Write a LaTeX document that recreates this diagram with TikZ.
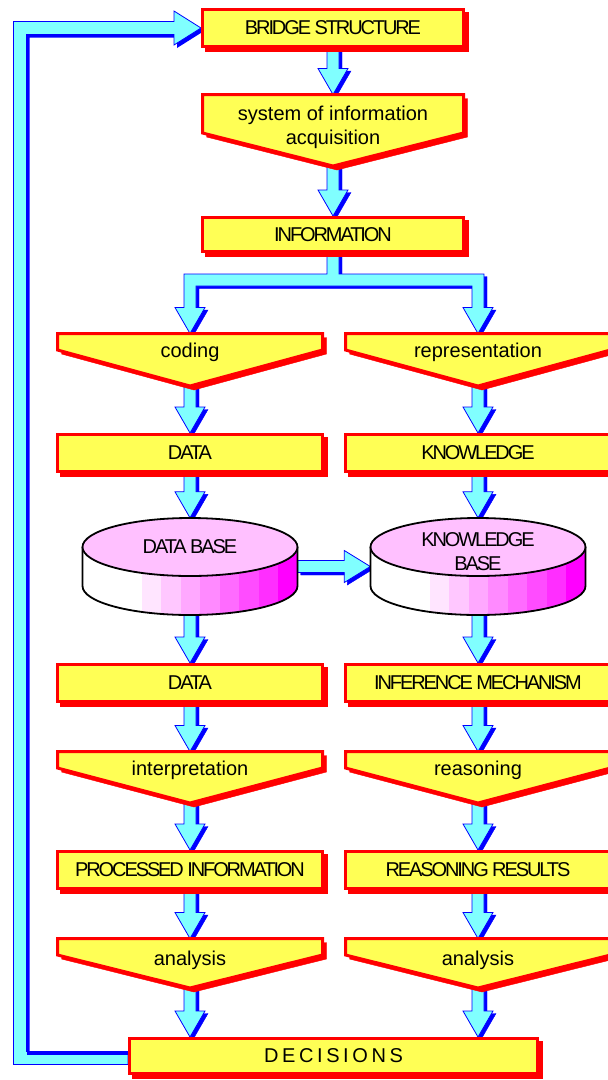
\documentclass[tikz,border=0pt]{standalone}
\usepackage{fontspec}
\setmainfont{Liberation Sans}
\newfontfamily\capsfont[LetterSpace=-10.5]{Liberation Sans}
\newfontfamily\widefont[LetterSpace=18]{Liberation Sans}
\usetikzlibrary{calc,shadows,backgrounds}
\definecolor{boxyellow}{HTML}{FFFF55}
\definecolor{acyan}{HTML}{80FFFF}
\definecolor{pinktop}{HTML}{FFC0FF}
\definecolor{mag}{HTML}{FF00FF}
\tikzset{
  redshadow/.style={drop shadow={shadow xshift=4pt,shadow yshift=-4pt,fill=red,draw=red,opacity=1}},
  redbox/.style={draw=red,line width=3pt,fill=boxyellow,redshadow,inner sep=0pt,font=\fontsize{20}{24}\capsfont},
  topbox/.style={redbox,minimum width=261pt,minimum height=37pt},
  colbox/.style={redbox,minimum width=265pt,minimum height=37pt},
  frame/.style={draw=red,line width=3pt,fill=boxyellow,redshadow},
  lbl/.style={font=\fontsize{20}{24}\selectfont,inner sep=0pt},
  capslbl/.style={font=\fontsize{20}{24}\capsfont,inner sep=0pt},
  barrow/.style={fill=acyan,draw=blue,line width=0.8pt,drop shadow={shadow xshift=3pt,shadow yshift=-2.5pt,fill=blue,draw=blue,opacity=1}},
  bdown/.style={to path={let \p1=(\tikztostart),\p2=(\tikztotarget) in
    (\x1-6pt,\y1) -- (\x1+6pt,\y1) -- (\x1+6pt,\y2+26pt) -- (\x1+15pt,\y2+26pt)
    -- (\x1,\y2) -- (\x1-15pt,\y2+26pt) -- (\x1-6pt,\y2+26pt) -- cycle}},
  bright/.style={to path={let \p1=(\tikztostart),\p2=(\tikztotarget) in
    (\x1,\y1+6pt) -- (\x2-26pt,\y1+6pt) -- (\x2-26pt,\y1+16pt) -- (\x2,\y1)
    -- (\x2-26pt,\y1-16pt) -- (\x2-26pt,\y1-6pt) -- (\x1,\y1-6pt) -- cycle}},
}
\newcommand\pentbox[8]{%
  \path[frame] (#2-#3,#4) -- (#2+#3,#4) -- (#2+#3,#5) -- (#2,#6) -- (#2-#3,#5) -- cycle;
  \node[lbl,anchor=base] (#1) at (#2,#7) {#8};
  \coordinate (#1-top) at (#2,#4);
  \coordinate (#1-tip) at (#2,#6-3);
}
\newcommand\cylbase[2]{%
  \node[inner sep=0pt,minimum width=215pt,minimum height=97pt] (#1) at (#2,566.5) {};
  \begin{scope}
    \clip (#2-107.5,547) -- (#2-107.5,586) arc[start angle=180,end angle=0,x radius=107.5,y radius=29] -- (#2+107.5,547) -- cycle;
    \fill[white] (#2-108,500) rectangle (#2+108,620);
    \foreach \k [count=\i from 0] in {10,22,34,46,58,70,82,100} {
      \fill[mag!\k!white] ({#2-48.5+19.5*\i},540) rectangle ({#2-48.5+19.5*(\i+1)+0.3},620);
    }
  \end{scope}
  \draw[line width=1.8pt] (#2-107.5,547) -- (#2-107.5,586) arc[start angle=180,end angle=0,x radius=107.5,y radius=29] -- (#2+107.5,547);
  \draw[line width=1.8pt,fill=pinktop] (#2,547) ellipse [x radius=107.5,y radius=29];
}
\begin{document}
\begin{tikzpicture}[x=1pt,y=-1pt]
\useasboundingbox (0,0) rectangle (608,1080);

\node[topbox] (bridge) at (333,28) {BRIDGE STRUCTURE};

\path[frame] (202.5,94.5) -- (463.5,94.5) -- (463.5,133) -- (333,166) -- (202.5,133) -- cycle;
\node[lbl,align=center] (system) at (333,127) {system of information\\acquisition};
\coordinate (system-top) at (333,94.5);
\coordinate (system-tip) at (333,163);

\node[topbox,minimum height=34pt] (info) at (333,234.5) {INFORMATION};

\pentbox{coding}{190}{132.5}{333.5}{350}{386}{357}{coding}
\pentbox{repr}{478}{132.5}{333.5}{350}{386}{357}{representation}

\node[colbox] (data1) at (190,453) {DATA};
\node[colbox] (know) at (478,453) {KNOWLEDGE};

\cylbase{db}{190}
\cylbase{kb}{478}
\node[capslbl,anchor=base] (dbtxt) at (190,553) {DATA BASE};
\node[capslbl,align=center] (kbtxt) at (478,552) {KNOWLEDGE\\BASE};

\node[colbox] (data2) at (190,683) {DATA};
\node[colbox] (infer) at (478,683) {INFERENCE MECHANISM};

\pentbox{interp}{190}{132.5}{751.5}{768}{803}{775}{interpretation}
\pentbox{reason}{478}{132.5}{751.5}{768}{803}{775}{reasoning}

\node[colbox] (proc) at (190,870) {PROCESSED INFORMATION};
\node[colbox] (rres) at (478,870) {REASONING RESULTS};

\pentbox{anal1}{190}{132.5}{938.5}{955}{988}{965}{analysis}
\pentbox{anal2}{478}{132.5}{938.5}{955}{988}{965}{analysis}

\node[redbox,minimum width=408pt,minimum height=35pt,font=\fontsize{20}{24}\widefont] (decisions) at (333.5,1056) {DECISIONS};

\begin{scope}[on background layer]
  \fill[white] (0,0) rectangle (608,1080);
  % feedback loop
  \begin{scope}
    \clip (0,0) rectangle (608,1051.5);
    \begin{scope}[transform canvas={shift={(3pt,-3pt)}}]
      \fill[blue] let \p1=(decisions.west),\p2=(bridge.west) in
        (\x1,\y1+4.5pt) -- (26.5pt,\y1+4.5pt) -- (26.5pt,\y2-6.5pt) -- (\x2-27pt,\y2-6.5pt)
        -- (\x2-27pt,\y2-17pt) -- (\x2,\y2) -- (\x2-27pt,\y2+17pt) -- (\x2-27pt,\y2+6.5pt)
        -- (13.5pt,\y2+6.5pt) -- (13.5pt,\y1-8.5pt) -- (\x1,\y1-8.5pt) -- cycle;
    \end{scope}
  \end{scope}
  \draw[fill=acyan,draw=blue,line width=0.8pt] let \p1=(decisions.west),\p2=(bridge.west) in
    (\x1,\y1+4.5pt) -- (26.5pt,\y1+4.5pt) -- (26.5pt,\y2-6.5pt) -- (\x2-27pt,\y2-6.5pt)
    -- (\x2-27pt,\y2-17pt) -- (\x2,\y2) -- (\x2-27pt,\y2+17pt) -- (\x2-27pt,\y2+6.5pt)
    -- (13.5pt,\y2+6.5pt) -- (13.5pt,\y1-8.5pt) -- (\x1,\y1-8.5pt) -- cycle;
  \draw[blue,line width=3pt] let \p1=(decisions.west) in (\x1,\y1+3pt) -- (26.5pt,\y1+3pt);

  % split arrow
  \draw[barrow] let \p1=(info.south),\p2=(coding-top),\p3=(repr-top) in
    (\x1-6pt,\y1) -- (\x1-6pt,\y1-21pt) -- (\x2-6pt,\y1-21pt) -- (\x2-6pt,\y2+26pt)
    -- (\x2-15pt,\y2+26pt) -- (\x2,\y2) -- (\x2+15pt,\y2+26pt) -- (\x2+6pt,\y2+26pt)
    -- (\x2+6pt,\y1-33pt) -- (\x3-6pt,\y1-33pt) -- (\x3-6pt,\y3+26pt) -- (\x3-15pt,\y3+26pt)
    -- (\x3,\y3) -- (\x3+15pt,\y3+26pt) -- (\x3+6pt,\y3+26pt) -- (\x3+6pt,\y1-21pt)
    -- (\x1+6pt,\y1-21pt) -- (\x1+6pt,\y1) -- cycle;

  \draw[barrow] (bridge.south) to[bdown] (system-top);
  \draw[barrow] (system-tip) to[bdown] (info.north);
  \draw[barrow] (coding-tip) to[bdown] (data1.north);
  \draw[barrow] (repr-tip) to[bdown] (know.north);
  \draw[barrow] (data1.south) to[bdown] (db.north);
  \draw[barrow] (know.south) to[bdown] (kb.north);
  \draw[barrow] (db.east) to[bright] (kb.west);
  \draw[barrow] ([yshift=3pt]db.south) to[bdown] (data2.north);
  \draw[barrow] ([yshift=3pt]kb.south) to[bdown] (infer.north);
  \draw[barrow] (data2.south) to[bdown] (interp-top);
  \draw[barrow] (infer.south) to[bdown] (reason-top);
  \draw[barrow] (interp-tip) to[bdown] (proc.north);
  \draw[barrow] (reason-tip) to[bdown] (rres.north);
  \draw[barrow] (proc.south) to[bdown] (anal1-top);
  \draw[barrow] (rres.south) to[bdown] (anal2-top);
  \draw[barrow] (anal1-tip) to[bdown] (anal1-tip |- decisions.north);
  \draw[barrow] (anal2-tip) to[bdown] (anal2-tip |- decisions.north);
\end{scope}
\end{tikzpicture}
\end{document}
